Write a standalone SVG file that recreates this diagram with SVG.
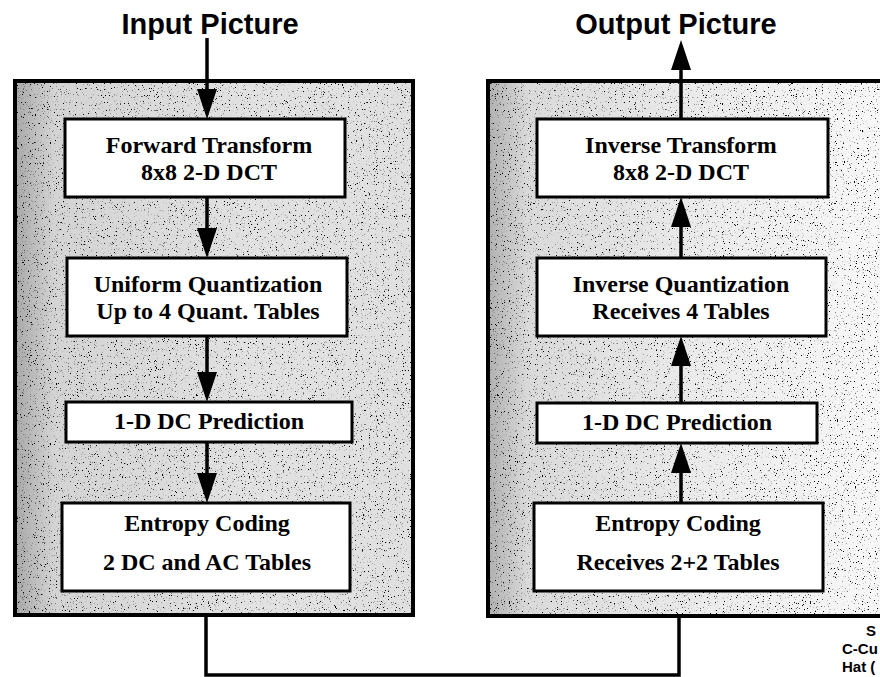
<svg xmlns="http://www.w3.org/2000/svg" width="880" height="677" viewBox="0 0 880 677">
<style>
.panelbg { stroke: none; }
.panel { fill: none; stroke: #000; stroke-width: 4; }
.box { fill: #fff; stroke: #000; stroke-width: 3; }
.lbl { font-family: "Liberation Serif", "Times New Roman", serif; font-weight: bold; font-size: 24px; text-anchor: middle; fill: #000; }
.title { font-family: "Liberation Sans", Arial, sans-serif; font-weight: bold; font-size: 29px; text-anchor: middle; fill: #000; }
.note { font-family: "Liberation Sans", Arial, sans-serif; font-weight: bold; font-size: 15px; fill: #000; }
.conn { fill: none; stroke: #000; stroke-width: 3.5; }
.arr { fill: none; stroke: #000; stroke-width: 3.5; marker-end: url(#head); }
</style>
<defs>
  <marker id="head" markerUnits="userSpaceOnUse" markerWidth="30" markerHeight="20" refX="20" refY="10" orient="auto">
    <path d="M0,0 L30,10 L0,20 Z" fill="#000"/>
  </marker>
  <linearGradient id="baseL" x1="0" y1="0" x2="1" y2="0">
    <stop offset="0" stop-color="#a8a8a8"/>
    <stop offset="0.1" stop-color="#d4d4d4"/>
    <stop offset="0.6" stop-color="#e2e2e2"/>
    <stop offset="1" stop-color="#e0e0e0"/>
  </linearGradient>
  <linearGradient id="baseR" x1="0" y1="0" x2="1" y2="0">
    <stop offset="0" stop-color="#b0b0b0"/>
    <stop offset="0.1" stop-color="#dadada"/>
    <stop offset="0.55" stop-color="#ececec"/>
    <stop offset="1" stop-color="#f8f8f8"/>
  </linearGradient>
  <filter id="speckle" x="0" y="0" width="1" height="1">
    <feTurbulence type="fractalNoise" baseFrequency="0.85" numOctaves="2" seed="7" result="n"/>
    <feColorMatrix in="n" type="matrix" values="0 0 0 0 0  0 0 0 0 0  0 0 0 0 0  10 0 0 0 -6.4" result="dots"/>
    <feComposite in="dots" in2="SourceGraphic" operator="in" result="d2"/>
    <feMerge><feMergeNode in="SourceGraphic"/><feMergeNode in="d2"/></feMerge>
  </filter>
</defs>

<g id="title-input"><text class="title" x="210" y="34">Input Picture</text></g>
<g id="title-output"><text class="title" x="676" y="34">Output Picture</text></g>

<g id="encoder-panel">
  <rect class="panelbg" x="15" y="81" width="398" height="534" fill="url(#baseL)" filter="url(#speckle)"/>
  <rect class="panel" x="15" y="81" width="398" height="534"/>
</g>
<g id="decoder-panel">
  <rect class="panelbg" x="488" y="81" width="400" height="535" fill="url(#baseR)" filter="url(#speckle)"/>
  <rect class="panel" x="488" y="81" width="400" height="535"/>
</g>

<g id="connectors">
  <line class="arr" x1="207" y1="38" x2="207" y2="109"/>
  <line class="arr" x1="207" y1="197" x2="207" y2="248"/>
  <line class="arr" x1="207" y1="336" x2="207" y2="392"/>
  <line class="arr" x1="207" y1="442" x2="207" y2="493"/>
  <line class="arr" x1="681" y1="503" x2="681" y2="453"/>
  <line class="arr" x1="681" y1="403" x2="681" y2="346"/>
  <line class="arr" x1="681" y1="258" x2="681" y2="207"/>
  <line class="arr" x1="681" y1="119" x2="681" y2="50"/>
  <path class="conn" d="M206,617 V675 H679 V618"/>
</g>

<g id="forward-transform">
  <rect class="box" x="65" y="119" width="280" height="78"/>
  <text class="lbl" x="209" y="153">Forward Transform</text>
  <text class="lbl" x="209" y="180">8x8 2-D DCT</text>
</g>
<g id="uniform-quantization">
  <rect class="box" x="67" y="258" width="280" height="78"/>
  <text class="lbl" x="208" y="292">Uniform Quantization</text>
  <text class="lbl" x="208" y="319">Up to 4 Quant. Tables</text>
</g>
<g id="dc-prediction-enc">
  <rect class="box" x="66" y="402" width="286" height="40"/>
  <text class="lbl" x="209" y="429">1-D DC Prediction</text>
</g>
<g id="entropy-coding-enc">
  <rect class="box" x="62" y="503" width="288" height="88"/>
  <text class="lbl" x="207" y="531">Entropy Coding</text>
  <text class="lbl" x="207" y="570">2 DC and AC Tables</text>
</g>

<g id="inverse-transform">
  <rect class="box" x="537" y="119" width="291" height="78"/>
  <text class="lbl" x="681" y="153">Inverse Transform</text>
  <text class="lbl" x="681" y="180">8x8 2-D DCT</text>
</g>
<g id="inverse-quantization">
  <rect class="box" x="537" y="258" width="289" height="78"/>
  <text class="lbl" x="681" y="292">Inverse Quantization</text>
  <text class="lbl" x="681" y="319">Receives 4 Tables</text>
</g>
<g id="dc-prediction-dec">
  <rect class="box" x="537" y="403" width="280" height="40"/>
  <text class="lbl" x="677" y="430">1-D DC Prediction</text>
</g>
<g id="entropy-coding-dec">
  <rect class="box" x="534" y="503" width="289" height="88"/>
  <text class="lbl" x="678" y="531">Entropy Coding</text>
  <text class="lbl" x="678" y="570">Receives 2+2 Tables</text>
</g>

<g id="source-note">
  <text class="note" x="866" y="636">S</text>
  <text class="note" x="842" y="654">C-Cu</text>
  <text class="note" x="842" y="672">Hat (</text>
</g>
</svg>
